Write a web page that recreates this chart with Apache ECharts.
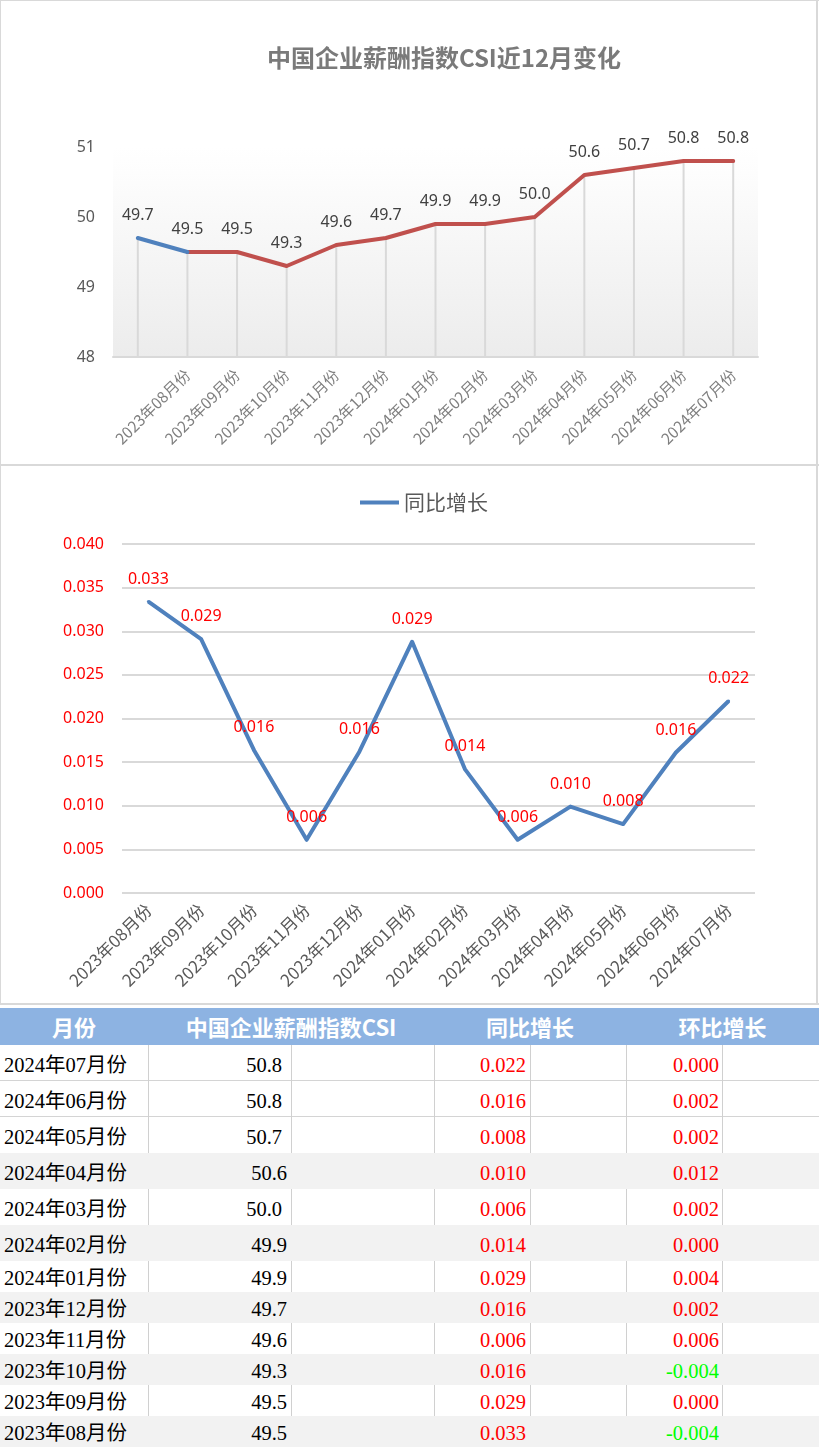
<!DOCTYPE html>
<html>
<head>
<meta charset="utf-8">
<script src="https://cdn.jsdelivr.net/npm/echarts@6/dist/echarts.min.js"></script>
<style>
html,body{margin:0;padding:0;background:#fff;}
#page{position:relative;width:819px;height:1447px;overflow:hidden;background:#fff;}
#c1{position:absolute;left:0;top:0;width:819px;height:465px;}
#c2{position:absolute;left:0;top:465px;width:819px;height:540px;}
.ln{position:absolute;background:#d9d9d9;}
#tbl{position:absolute;left:0;top:1008px;width:819px;height:439px;}
.cell{position:absolute;box-sizing:border-box;white-space:nowrap;overflow:hidden;}
</style>
</head>
<body>
<div id="page">
  <div id="c1"></div>
  <div id="c2"></div>
  <div class="ln" style="left:0;top:0;width:819px;height:1px;"></div>
  <div class="ln" style="left:0;top:0;width:1px;height:1005px;"></div>
  <div class="ln" style="left:816px;top:0;width:2px;height:1005px;"></div>
  <div class="ln" style="left:0;top:464px;width:819px;height:2px;"></div>
  <div class="ln" style="left:0;top:1003px;width:819px;height:2px;"></div>
  <div id="tbl"></div>
</div>
<script>
// ---------- data ----------
const chartTitle = '中国企业薪酬指数CSI近12月变化';
const months = ['2023年08月份','2023年09月份','2023年10月份','2023年11月份','2023年12月份','2024年01月份',
                '2024年02月份','2024年03月份','2024年04月份','2024年05月份','2024年06月份','2024年07月份'];
// CSI: first point is the month before 2023年08月份 (unlabelled in the chart)
const csiCategories = [''].concat(months);
const csiValues = [49.7, 49.5, 49.5, 49.3, 49.6, 49.7, 49.9, 49.9, 50.0, 50.6, 50.7, 50.8, 50.8];
const yoyName = '同比增长';
const yoyValues = [0.0334, 0.0291, 0.0164, 0.0061, 0.0162, 0.0288, 0.0142, 0.0061, 0.0099, 0.0079, 0.0161, 0.0220];
const momValues = [-0.004, 0.000, -0.004, 0.006, 0.002, 0.004, 0.000, 0.002, 0.012, 0.002, 0.002, 0.000];
const tableHeaders = ['月份', '中国企业薪酬指数CSI', '同比增长', '环比增长'];

// ---------- chart 1 ----------
const c1 = echarts.init(document.getElementById('c1'), null, {renderer: 'canvas'});
const lblFont = 'Noto Sans, Noto Sans CJK SC, sans-serif';
const cjkFont = 'Noto Sans CJK SC, Noto Sans, sans-serif';
c1.setOption({
  animation: false,
  graphic: [{
    type: 'text', x: 444, y: 58,
    style: {text: chartTitle, textAlign: 'center', textVerticalAlign: 'middle',
            font: 'bold 24px "Noto Sans CJK SC", sans-serif', fill: '#7a7a7a'}
  }],
  grid: {
    left: 113, right: 61, top: 147, bottom: 108, show: true, borderWidth: 0,
    backgroundColor: new echarts.graphic.LinearGradient(0, 0, 0, 1, [
      {offset: 0, color: '#ffffff'}, {offset: 0.12, color: '#fdfdfd'}, {offset: 1, color: '#ececec'}])
  },
  xAxis: {
    type: 'category', data: csiCategories, boundaryGap: true,
    axisLine: {lineStyle: {color: '#d9d9d9', width: 2}},
    axisTick: {show: false},
    axisLabel: {rotate: 45, interval: 0, margin: 15, color: '#7f7f7f', fontSize: 15.5, fontFamily: cjkFont}
  },
  yAxis: {
    type: 'value', min: 48, max: 51, interval: 1,
    axisLine: {show: false}, axisTick: {show: false}, splitLine: {show: false},
    axisLabel: {color: '#595959', fontSize: 16, margin: 18, fontFamily: lblFont}
  },
  series: [
    {type: 'bar', data: csiValues, barWidth: 2, itemStyle: {color: '#d9d9d9'}, silent: true, z: 1},
    {
      type: 'line', data: csiValues.map((v, i) => i <= 1 ? v : '-'),
      symbol: 'circle', symbolSize: 3, itemStyle: {color: '#4F81BD'},
      lineStyle: {color: '#4F81BD', width: 4, cap: 'round', join: 'round'}, z: 3,
      label: {show: true, position: 'top', distance: 13, color: '#404040', fontSize: 16, fontFamily: lblFont,
              formatter: p => p.dataIndex === 0 ? Number(p.value).toFixed(1) : ''}
    },
    {
      type: 'line', data: csiValues.map((v, i) => i >= 1 ? v : '-'),
      symbol: 'circle', symbolSize: 3, itemStyle: {color: '#C0504D'},
      lineStyle: {color: '#C0504D', width: 4, cap: 'round', join: 'round'}, z: 2,
      label: {show: true, position: 'top', distance: 13, color: '#404040', fontSize: 16, fontFamily: lblFont,
              formatter: p => Number(p.value).toFixed(1)}
    }
  ]
});

// ---------- chart 2 ----------
const c2 = echarts.init(document.getElementById('c2'), null, {renderer: 'canvas'});
c2.setOption({
  animation: false,
  legend: {
    data: [yoyName], left: 355, top: 22, icon: 'rect', itemWidth: 39, itemHeight: 4,
    textStyle: {fontSize: 21, color: '#595959', fontFamily: cjkFont}
  },
  grid: {left: 122, right: 64, top: 79, bottom: 112},
  xAxis: {
    type: 'category', data: months, boundaryGap: true,
    axisLine: {show: false}, axisTick: {show: false},
    axisLabel: {rotate: 45, interval: 0, margin: 14, color: '#595959', fontSize: 17, fontFamily: cjkFont}
  },
  yAxis: {
    type: 'value', min: 0, max: 0.04, interval: 0.005,
    axisLine: {show: false}, axisTick: {show: false},
    splitLine: {lineStyle: {color: '#d9d9d9', width: 2}},
    axisLabel: {color: '#ff0000', fontSize: 16, margin: 18, fontFamily: lblFont, formatter: v => v.toFixed(3)}
  },
  series: [{
    name: yoyName, type: 'line', data: yoyValues,
    symbol: 'circle', symbolSize: 3, itemStyle: {color: '#4F81BD'},
    lineStyle: {color: '#4F81BD', width: 4, join: 'round'},
    label: {show: true, position: 'top', distance: 13, color: '#ff0000', fontSize: 16, fontFamily: lblFont,
            formatter: p => Number(p.value).toFixed(3)}
  }]
});

// ---------- table ----------
const tbl = document.getElementById('tbl');
const colX = [0, 148, 291, 434, 530, 626, 722, 819];
function addCell(x, y, w, h, html, style) {
  const d = document.createElement('div');
  d.className = 'cell';
  d.style.left = x + 'px'; d.style.top = y + 'px';
  d.style.width = w + 'px'; d.style.height = h + 'px';
  d.style.lineHeight = h + 'px';
  Object.assign(d.style, style || {});
  d.textContent = html;
  tbl.appendChild(d);
  return d;
}
// header
addCell(0, 0, 819, 37, '', {background: '#8DB3E2'});
const hdrSpans = [[0, 1], [1, 3], [3, 5], [5, 7]];
hdrSpans.forEach((s, i) => {
  addCell(colX[s[0]], 0, colX[s[1]] - colX[s[0]], 37, tableHeaders[i],
    {textAlign: 'center', color: '#ffffff', fontWeight: 'bold', fontSize: '22px', fontFamily: cjkFont});
});
// rows: newest first
const n = months.length;
const isGray = r => (r % 2 === 1) && r >= 3;
let y = 37;
for (let r = 0; r < n; r++) {
  const idx = n - 1 - r;
  const h = r < 6 ? 36 : 31;
  const gray = isGray(r);
  const lineBelow = !gray && r < n - 1 && !isGray(r + 1);
  addCell(0, y, 819, h, '', {background: gray ? '#f2f2f2' : '#ffffff',
    borderBottom: lineBelow ? '1px solid #d4d4d4' : 'none'});
  if (!gray) {
    for (let c = 1; c < colX.length - 1; c++) {
      addCell(colX[c], y, 1, h, '', {background: '#d0d0d0'});
    }
  }
  const serif = '"Liberation Serif", "Noto Sans CJK SC", serif';
  const padCsi = (r <= 2 || r === 4) ? 9 : 4;
  addCell(4, y + 2, 144, h, months[idx], {fontSize: '20.5px', color: '#000', fontFamily: serif});
  addCell(colX[1], y + 2, colX[2] - colX[1] - padCsi, h, csiValues[idx + 1].toFixed(1),
    {fontSize: '20.5px', color: '#000', fontFamily: serif, textAlign: 'right'});
  addCell(colX[3], y + 2, colX[4] - colX[3] - 4, h, yoyValues[idx].toFixed(3),
    {fontSize: '20.5px', color: '#ff0000', fontFamily: serif, textAlign: 'right'});
  const m = momValues[idx];
  addCell(colX[5], y + 2, colX[6] - colX[5] - 3, h, m.toFixed(3),
    {fontSize: '20.5px', color: m < 0 ? '#00ff00' : '#ff0000', fontFamily: serif, textAlign: 'right'});
  y += h;
}
</script>
</body>
</html>
